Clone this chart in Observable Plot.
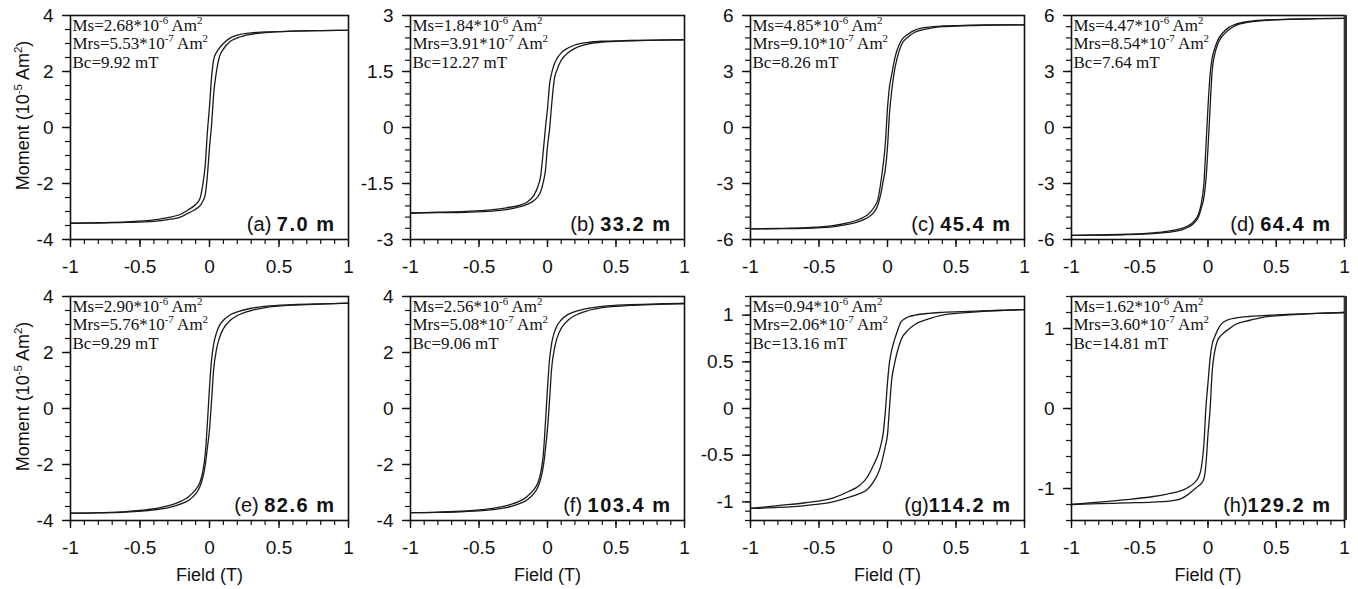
<!DOCTYPE html>
<html><head><meta charset="utf-8">
<script src="https://cdn.jsdelivr.net/npm/d3@7"></script>
<script src="https://cdn.jsdelivr.net/npm/@observablehq/plot@0.6"></script>
<style>
html,body{margin:0;padding:0;background:#fff;}
#fig{position:relative;width:1358px;height:589px;overflow:hidden;background:#fff;}
#fig > div{position:absolute;}
</style></head><body><div id="fig"></div>
<script>
// Applied field (T) at which each branch is read
const field = [-1,-0.8,-0.6,-0.4,-0.3,-0.2,-0.15,-0.1,-0.07,-0.05,-0.03,-0.015,0,0.015,0.03,0.05,0.07,0.1,0.15,0.2,0.3,0.4,0.6,0.8,1];

// Moment (10^-5 Am^2): descending branch (up) and ascending branch (down)
const upA   = [-3.42,-3.40,-3.37,-3.30,-3.22,-3.08,-2.93,-2.75,-2.55,-2.1,-1.3,-0.15,0.75,1.8,2.42,2.68,2.83,3.0,3.2,3.3,3.38,3.41,3.44,3.46,3.47];
const downA = [-3.42,-3.41,-3.39,-3.35,-3.29,-3.18,-3.05,-2.92,-2.8,-2.65,-2.38,-1.7,-0.72,0.1,1.2,2.0,2.5,2.8,3.08,3.2,3.33,3.39,3.44,3.46,3.47];
const upB   = [-2.29,-2.27,-2.25,-2.2,-2.15,-2.08,-2.0,-1.82,-1.58,-1.3,-0.6,0.0,0.5,1.15,1.45,1.7,1.85,2.0,2.13,2.21,2.28,2.31,2.33,2.34,2.35];
const downB = [-2.29,-2.28,-2.27,-2.24,-2.2,-2.12,-2.06,-1.96,-1.85,-1.72,-1.45,-1.15,-0.5,-0.05,0.6,1.3,1.55,1.8,2.0,2.12,2.24,2.29,2.32,2.34,2.35];
const upC   = [-5.43,-5.41,-5.37,-5.26,-5.12,-4.9,-4.7,-4.3,-3.85,-3.0,-1.9,-0.8,1.05,2.2,2.8,3.6,4.15,4.65,5.0,5.22,5.38,5.44,5.48,5.5,5.5];
const downC = [-5.43,-5.42,-5.4,-5.32,-5.2,-5.02,-4.85,-4.55,-4.15,-3.6,-2.8,-2.2,-1.05,0.8,1.9,3.0,3.7,4.4,4.85,5.1,5.3,5.4,5.46,5.49,5.5];
const upD   = [-5.78,-5.76,-5.72,-5.64,-5.56,-5.42,-5.28,-5.0,-4.65,-4.1,-3.0,-1.0,1.1,2.8,3.7,4.25,4.65,5.0,5.35,5.52,5.68,5.75,5.8,5.83,5.85];
const downD = [-5.78,-5.77,-5.74,-5.68,-5.62,-5.5,-5.36,-5.1,-4.8,-4.35,-3.75,-2.8,-1.1,1.0,3.0,3.95,4.45,4.85,5.22,5.45,5.64,5.73,5.79,5.83,5.85];
const upE   = [-3.74,-3.72,-3.68,-3.58,-3.48,-3.3,-3.15,-2.9,-2.65,-2.3,-1.6,-0.5,0.75,1.75,2.3,2.7,2.95,3.15,3.35,3.45,3.58,3.65,3.71,3.74,3.76];
const downE = [-3.74,-3.73,-3.7,-3.62,-3.55,-3.4,-3.28,-3.05,-2.8,-2.5,-2.0,-1.4,-0.75,0.3,1.4,2.1,2.5,2.85,3.15,3.32,3.5,3.6,3.69,3.73,3.76];
const upF   = [-3.72,-3.70,-3.66,-3.57,-3.47,-3.3,-3.15,-2.9,-2.65,-2.3,-1.62,-0.5,0.72,1.75,2.32,2.72,2.96,3.16,3.36,3.46,3.58,3.65,3.71,3.74,3.75];
const downF = [-3.72,-3.71,-3.68,-3.61,-3.54,-3.39,-3.27,-3.04,-2.8,-2.52,-2.05,-1.45,-0.72,0.3,1.42,2.12,2.52,2.86,3.15,3.32,3.5,3.6,3.68,3.72,3.75];
const upG   = [-1.07,-1.04,-1.01,-0.96,-0.9,-0.82,-0.74,-0.6,-0.5,-0.4,-0.25,-0.02,0.28,0.5,0.62,0.73,0.82,0.93,0.98,1.0,1.02,1.03,1.04,1.05,1.06];
const downG = [-1.07,-1.06,-1.04,-1.0,-0.96,-0.91,-0.87,-0.78,-0.7,-0.62,-0.5,-0.4,-0.28,0.02,0.3,0.47,0.6,0.74,0.84,0.9,0.96,1.0,1.03,1.05,1.06];
const upH   = [-1.2,-1.17,-1.14,-1.1,-1.07,-1.03,-0.99,-0.93,-0.86,-0.75,-0.45,0.02,0.32,0.62,0.8,0.9,0.98,1.06,1.11,1.13,1.15,1.16,1.18,1.19,1.2];
const downH = [-1.2,-1.19,-1.18,-1.17,-1.16,-1.13,-1.08,-1.01,-0.97,-0.94,-0.88,-0.7,-0.32,-0.02,0.45,0.72,0.85,0.92,0.99,1.05,1.1,1.14,1.17,1.19,1.2];

const upBranches   = [upA, upB, upC, upD, upE, upF, upG, upH];
const downBranches = [downA, downB, downC, downD, downE, downF, downG, downH];

// Texts
const letters = ["a","b","c","d","e","f","g","h"];
const depths  = ["7.0 m","33.2 m","45.4 m","64.4 m","82.6 m","103.4 m","114.2 m","129.2 m"];
const letterGap = [" "," "," "," "," "," ","",""];
const msText  = ["2.68","1.84","4.85","4.47","2.90","2.56","0.94","1.62"];
const mrsText = ["5.53","3.91","9.10","8.54","5.76","5.08","2.06","3.60"];
const bcText  = ["9.92","12.27","8.26","7.64","9.29","9.06","13.16","14.81"];
const yLabel = "Moment (10^{-5} Am^{2})";
const xLabel = "Field (T)";

// Axes
const yDomains = [[-4,4],[-3,3],[-6,6],[-6,6],[-4,4],[-4,4],[-1.2,1.2],[-1.4,1.4]];
const yMajorTicks = [[-4,-2,0,2,4],[-3,-1.5,0,1.5,3],[-6,-3,0,3,6],[-6,-3,0,3,6],[-4,-2,0,2,4],[-4,-2,0,2,4],[-1,-0.5,0,0.5,1],[-1,0,1]];
const yMinorStep = [0.5,0.3,0.6,0.6,0.5,0.5,0.1,0.2];
const xMajorTicks = [-1,-0.5,0,0.5,1];
const xMinorStep = 0.1;

// Layout (frame boxes)
const colLeft = [70, 410, 750, 1071];
const colWidth = [278, 274, 274, 273];
const rowTop = [15, 296];
const frameH = 224;

const SANS = "'Liberation Sans', Arial, Helvetica, sans-serif";
const SERIF = "'Liberation Serif', 'Times New Roman', Times, serif";
const fmt = d => String(+d.toFixed(2));

function rich(svg){
  d3.select(svg).selectAll("text").each(function(){
    const raw = this.textContent;
    if (!/\^\{|\*\*/.test(raw)) return;
    const parts = raw.split(/(\^\{[^}]*\}|\*\*[^*]+\*\*)/).filter(s => s !== "");
    const el = d3.select(this);
    el.text(null);
    let up = false;
    for (const p of parts) {
      const ts = el.append("tspan");
      if (p.startsWith("^{")) {
        ts.attr("font-size", "0.64em").attr("dy", "-0.62em").text(p.slice(2, -1));
        up = true;
      } else {
        if (up) { ts.attr("dy", (0.62*0.64).toFixed(3) + "em"); up = false; }
        if (p.startsWith("**")) ts.attr("font-weight", "bold").attr("letter-spacing", "1.5px").text(p.slice(2, -2));
        else ts.text(p);
      }
    }
  });
}

const fig = document.getElementById("fig");
for (let i = 0; i < 8; i++) {
  const col = i % 4, row = Math.floor(i / 4);
  const mL = col === 0 ? 70 : 50, mR = 10, mT = 15, mB = row === 0 ? 42 : 69;
  const fw = colWidth[col];
  const [y0, y1] = yDomains[i];
  const yMinor = d3.range(y0, y1 + 1e-9, yMinorStep[i]).map(v => +v.toFixed(3));
  const xMinor = d3.range(-1, 1 + 1e-9, xMinorStep).map(v => +v.toFixed(3));
  const upData = field.map((f, k) => ({field: f, m: upBranches[i][k]}));
  const downData = field.map((f, k) => ({field: f, m: downBranches[i][k]}));
  const marks = [
    Plot.axisX(xMinor, {tickSize: 5, tickFormat: () => "", label: null, strokeWidth: 1.2}),
    Plot.axisX(xMajorTicks, {tickSize: 8, tickPadding: 12, tickFormat: fmt, label: null, strokeWidth: 1.4}),
    Plot.axisY(yMinor, {tickSize: 5, tickFormat: () => "", label: null, strokeWidth: 1.2}),
    Plot.axisY(yMajorTicks[i], {tickSize: 8, tickPadding: 9, tickFormat: fmt, label: null, strokeWidth: 1.4}),
    Plot.line(upData, {x: "field", y: "m", curve: "monotone-x", stroke: "#1a1a1a", strokeWidth: 1.3}),
    Plot.line(downData, {x: "field", y: "m", curve: "monotone-x", stroke: "#1a1a1a", strokeWidth: 1.3}),
    Plot.frame({stroke: "#111", strokeWidth: 1.6}),
    Plot.text([`Ms=${msText[i]}*10^{-6} Am^{2}`], {text: d => d, frameAnchor: "top-left", textAnchor: "start", lineAnchor: "bottom", dx: 2, dy: 15, fontFamily: SERIF, fontSize: 17, fill: "#111"}),
    Plot.text([`Mrs=${mrsText[i]}*10^{-7} Am^{2}`], {text: d => d, frameAnchor: "top-left", textAnchor: "start", lineAnchor: "bottom", dx: 2, dy: 33.5, fontFamily: SERIF, fontSize: 17, fill: "#111"}),
    Plot.text([`Bc=${bcText[i]} mT`], {text: d => d, frameAnchor: "top-left", textAnchor: "start", lineAnchor: "bottom", dx: 2, dy: 52, fontFamily: SERIF, fontSize: 17, fill: "#111"}),
    Plot.text([`(${letters[i]})${letterGap[i]}**${depths[i]}**`], {text: d => d, frameAnchor: "bottom-right", textAnchor: "end", lineAnchor: "bottom", dx: -13, dy: -9, fontSize: 20, fill: "#111"})
  ];
  if (col === 0) marks.push(Plot.text([yLabel], {text: d => d, frameAnchor: "left", rotate: -90, textAnchor: "middle", lineAnchor: "middle", dx: -47, dy: -12, fontSize: 18, fill: "#111"}));
  if (row === 1) marks.push(Plot.text([xLabel], {text: d => d, frameAnchor: "bottom", textAnchor: "middle", lineAnchor: "bottom", dy: 60, fontSize: 18, fill: "#111"}));
  if (col === 3) marks.push(Plot.ruleX([1], {stroke: "#333", strokeWidth: 3, dx: 1}));
  const svg = Plot.plot({
    width: mL + fw + mR,
    height: mT + frameH + mB,
    marginLeft: mL, marginRight: mR, marginTop: mT, marginBottom: mB,
    x: {domain: [-1, 1], label: null},
    y: {domain: yDomains[i], label: null},
    style: {background: "transparent", fontFamily: SANS, fontSize: "19px", color: "#111", overflow: "visible"},
    marks
  });
  const holder = document.createElement("div");
  holder.style.left = (colLeft[col] - mL) + "px";
  holder.style.top = (rowTop[row] - mT) + "px";
  holder.appendChild(svg);
  fig.appendChild(holder);
  rich(svg);
}
</script>
</body></html>
